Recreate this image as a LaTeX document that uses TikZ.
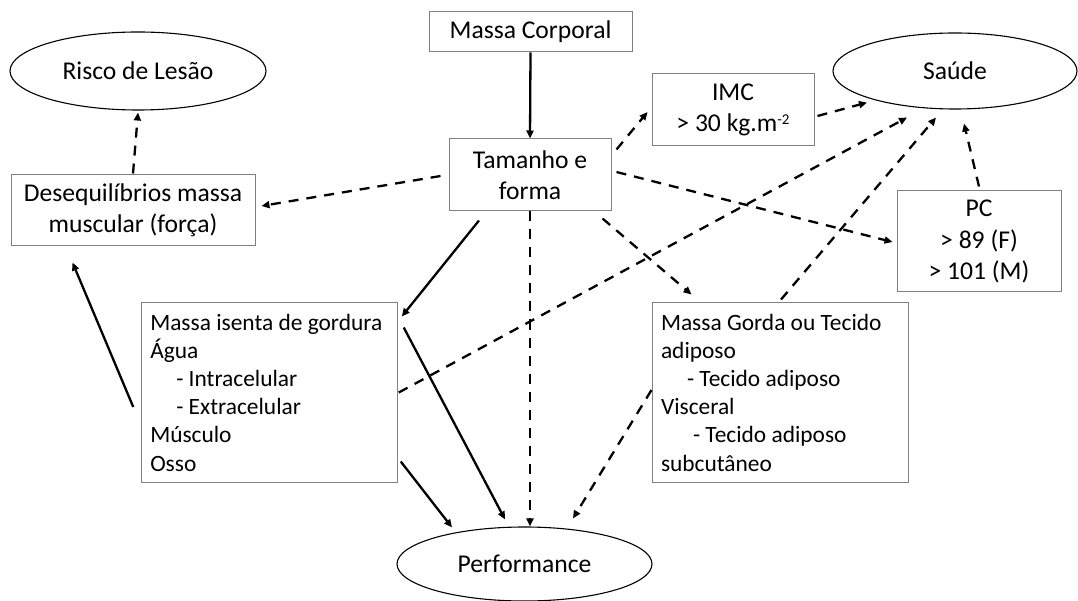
\documentclass[tikz,border=0pt]{standalone}
\usepackage{fontspec}
\setmainfont{Carlito}
\usetikzlibrary{arrows.meta,shapes.geometric}
\definecolor{boxgray}{HTML}{808080}
\begin{document}
\begin{tikzpicture}[x=1pt,y=-1pt,
  every node/.style={font=\fontsize{25.6}{31.2}\selectfont},
  box/.style={draw=boxgray, line width=1pt, rectangle, inner sep=0pt, align=flush center},
  listbox/.style={draw=boxgray, line width=1pt, rectangle, inner xsep=9pt, inner ysep=0pt, text width=238pt, align=flush left, minimum width=256pt, minimum height=179pt, font=\fontsize{23.4}{28.2}\selectfont},
  ell/.style={draw, ellipse, line width=1.1pt, inner sep=0pt},
  sol/.style={line width=2.3pt, -{Triangle[length=8pt,width=7pt]}},
  dsh/.style={sol, dash pattern=on 10pt off 8pt}]
\useasboundingbox (0,0) rectangle (1078,601);

\node[box, minimum width=203pt, minimum height=40pt] (mc) at (530.5,32) {Massa Corporal};
\node[box, minimum width=162pt, minimum height=72pt] (tam) at (530,175) {Tamanho e\\forma};
\node[ell, minimum width=256pt, minimum height=78pt] (risco) at (138,71) {Risco de Lesão};
\node[box, minimum width=244pt, minimum height=71pt] (deseq) at (133,210.5) {Desequilíbrios massa\\muscular (força)};
\node[box, minimum width=162pt, minimum height=72pt] (imc) at (733,110) {IMC\\> 30 kg.m\raisebox{0.55ex}{\fontsize{15}{15}\selectfont -2}};
\node[ell, minimum width=244pt, minimum height=76pt] (saude) at (955,71) {Saúde};
\node[box, minimum width=164pt, minimum height=101pt] (pc) at (979,241.5) {PC\\> 89 (F)\\> 101 (M)};
\node[listbox] (mig) at (269.25,392.5) {Massa isenta de gordura\\Água\\\hspace*{26pt}- Intracelular\\\hspace*{26pt}- Extracelular\\Músculo\\Osso};
\node[listbox] (mg) at (780,392.5) {Massa Gorda ou Tecido\\adiposo\\\hspace*{26pt}- Tecido adiposo\\Visceral\\\hspace*{32pt}- Tecido adiposo\\subcutâneo};
\node[ell, minimum width=255pt, minimum height=74pt] (perf) at (524.5,564) {Performance};

\draw[sol] (mc.south) -- (tam.north);
\draw[dsh] ([shift={(-8,1)}]tam.west) -- ([shift={(6,-4.5)}]deseq.east);
\draw[dsh] ([shift={(0,-1)}]deseq.north) -- ([shift={(0,2)}]risco.south);
\draw[sol] ([shift={(-51,9)}]tam.south) -- ([shift={(4,14)}]mig.north east);
\draw[sol] ([shift={(-7.5,14.5)}]mig.west) -- ([shift={(62,16)}]deseq.south west);
\draw[dsh] (tam.south) -- (tam.south |- perf.north);
\draw[sol] ([shift={(6,25)}]mig.north east) -- ([shift={(-19.5,-7)}]perf.north);
\draw[sol] ([shift={(3,-21)}]mig.south east) -- ([shift={(-72.5,1)}]perf.north);
\draw[dsh] ([shift={(1,0)}]mig.east) -- ([shift={(-48,8)}]saude.south);
\draw[dsh] ([shift={(5,11)}]tam.north east) -- ([shift={(-4,2)}]imc.west);
\draw[dsh] ([shift={(3,6)}]imc.east) -- ([shift={(-88,-7)}]saude.south);
\draw[dsh] ([shift={(5,-3)}]tam.east) -- ([shift={(-4,0.5)}]pc.west);
\draw[dsh] ([shift={(-9,7)}]tam.south east) -- ([shift={(40,-8)}]mg.north west);
\draw[dsh] ([shift={(1,-3)}]mg.north) -- ([shift={(-19,8)}]saude.south);
\draw[dsh] ([shift={(0,-4)}]pc.north) -- ([shift={(9,14)}]saude.south);
\draw[dsh] ([shift={(0,-2.5)}]mg.west) -- ([shift={(48.5,-8)}]perf.north);
\end{tikzpicture}
\end{document}
